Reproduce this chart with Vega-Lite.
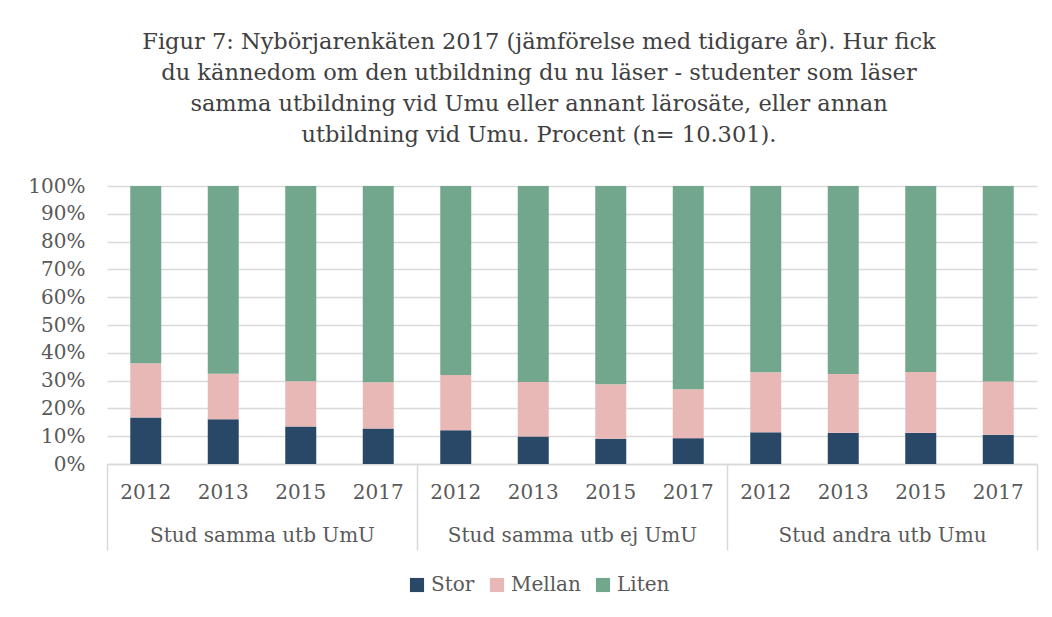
{
  "$schema": "https://vega.github.io/schema/vega-lite/v6.json",
  "autosize": "none",
  "width": 930,
  "height": 278,
  "padding": {"left": 107, "top": 186, "right": 15, "bottom": 153},
  "background": "white",
  "config": {
    "font": "DejaVu Serif",
    "view": {"stroke": null},
    "axisY": {
      "labelOverlap": false,
      "labelFont": "DejaVu Serif",
      "labelFontSize": 20,
      "labelColor": "#595959",
      "labelPadding": 22,
      "domain": false,
      "ticks": false,
      "grid": true,
      "gridColor": "#d9d9d9",
      "gridWidth": 1.5
    }
  },
  "title": {
    "text": [
      "Figur 7: Nybörjarenkäten 2017 (jämförelse med tidigare år). Hur fick",
      "du kännedom om den utbildning du nu läser - studenter som läser",
      "samma utbildning vid Umu eller annant lärosäte, eller annan",
      "utbildning vid Umu. Procent (n= 10.301)."
    ],
    "font": "DejaVu Serif",
    "fontSize": 22.5,
    "fontWeight": "normal",
    "color": "#404040",
    "lineHeight": 31,
    "anchor": "middle",
    "dx": -33,
    "offset": 30
  },
  "data": {
    "values": [
      {"group": "Stud samma utb UmU", "year": "2012", "size": "Stor", "value": 16.7},
      {"group": "Stud samma utb UmU", "year": "2012", "size": "Mellan", "value": 19.5},
      {"group": "Stud samma utb UmU", "year": "2012", "size": "Liten", "value": 63.8},
      {"group": "Stud samma utb UmU", "year": "2013", "size": "Stor", "value": 16.1},
      {"group": "Stud samma utb UmU", "year": "2013", "size": "Mellan", "value": 16.4},
      {"group": "Stud samma utb UmU", "year": "2013", "size": "Liten", "value": 67.5},
      {"group": "Stud samma utb UmU", "year": "2015", "size": "Stor", "value": 13.5},
      {"group": "Stud samma utb UmU", "year": "2015", "size": "Mellan", "value": 16.3},
      {"group": "Stud samma utb UmU", "year": "2015", "size": "Liten", "value": 70.2},
      {"group": "Stud samma utb UmU", "year": "2017", "size": "Stor", "value": 12.8},
      {"group": "Stud samma utb UmU", "year": "2017", "size": "Mellan", "value": 16.6},
      {"group": "Stud samma utb UmU", "year": "2017", "size": "Liten", "value": 70.6},
      {"group": "Stud samma utb ej UmU", "year": "2012", "size": "Stor", "value": 12.1},
      {"group": "Stud samma utb ej UmU", "year": "2012", "size": "Mellan", "value": 19.9},
      {"group": "Stud samma utb ej UmU", "year": "2012", "size": "Liten", "value": 68.0},
      {"group": "Stud samma utb ej UmU", "year": "2013", "size": "Stor", "value": 9.9},
      {"group": "Stud samma utb ej UmU", "year": "2013", "size": "Mellan", "value": 19.6},
      {"group": "Stud samma utb ej UmU", "year": "2013", "size": "Liten", "value": 70.5},
      {"group": "Stud samma utb ej UmU", "year": "2015", "size": "Stor", "value": 9.1},
      {"group": "Stud samma utb ej UmU", "year": "2015", "size": "Mellan", "value": 19.6},
      {"group": "Stud samma utb ej UmU", "year": "2015", "size": "Liten", "value": 71.3},
      {"group": "Stud samma utb ej UmU", "year": "2017", "size": "Stor", "value": 9.3},
      {"group": "Stud samma utb ej UmU", "year": "2017", "size": "Mellan", "value": 17.6},
      {"group": "Stud samma utb ej UmU", "year": "2017", "size": "Liten", "value": 73.1},
      {"group": "Stud andra utb Umu", "year": "2012", "size": "Stor", "value": 11.4},
      {"group": "Stud andra utb Umu", "year": "2012", "size": "Mellan", "value": 21.6},
      {"group": "Stud andra utb Umu", "year": "2012", "size": "Liten", "value": 67.0},
      {"group": "Stud andra utb Umu", "year": "2013", "size": "Stor", "value": 11.2},
      {"group": "Stud andra utb Umu", "year": "2013", "size": "Mellan", "value": 21.2},
      {"group": "Stud andra utb Umu", "year": "2013", "size": "Liten", "value": 67.6},
      {"group": "Stud andra utb Umu", "year": "2015", "size": "Stor", "value": 11.2},
      {"group": "Stud andra utb Umu", "year": "2015", "size": "Mellan", "value": 21.9},
      {"group": "Stud andra utb Umu", "year": "2015", "size": "Liten", "value": 66.9},
      {"group": "Stud andra utb Umu", "year": "2017", "size": "Stor", "value": 10.5},
      {"group": "Stud andra utb Umu", "year": "2017", "size": "Mellan", "value": 19.2},
      {"group": "Stud andra utb Umu", "year": "2017", "size": "Liten", "value": 70.3}
    ]
  },
  "encoding": {
    "x": {
      "field": "group",
      "type": "nominal",
      "sort": ["Stud samma utb UmU", "Stud samma utb ej UmU", "Stud andra utb Umu"],
      "scale": {"paddingInner": 0, "paddingOuter": 0},
      "axis": {
        "title": null,
        "labelAngle": 0,
        "labelFont": "DejaVu Serif",
        "labelFontSize": 20,
        "labelLimit": 0,
        "labelColor": "#595959",
        "labelPadding": -25,
        "labelBaseline": "top",
        "domain": true,
        "domainColor": "#d9d9d9",
        "domainWidth": 1.5,
        "ticks": true,
        "tickBand": "extent",
        "tickSize": 86,
        "tickColor": "#d9d9d9",
        "tickWidth": 1.5,
        "grid": false
      }
    },
    "xOffset": {
      "field": "year",
      "type": "nominal",
      "sort": ["2012", "2013", "2015", "2017"],
      "scale": {"paddingInner": 0.6, "paddingOuter": 0.3}
    }
  },
  "layer": [
    {
      "mark": {"type": "bar"},
      "encoding": {
        "y": {
          "field": "value",
          "type": "quantitative",
          "stack": "normalize",
          "scale": {"domain": [0, 1]},
          "axis": {
            "title": null,
            "format": ".0%",
            "values": [0, 0.1, 0.2, 0.3, 0.4, 0.5, 0.6, 0.7, 0.8, 0.9, 1],
            "tickCount": 11,
            "labelOverlap": false
          }
        },
        "color": {
          "field": "size",
          "type": "nominal",
          "sort": ["Stor", "Mellan", "Liten"],
          "scale": {
            "domain": ["Stor", "Mellan", "Liten"],
            "range": ["#294868", "#e8b8b6", "#72a78d"]
          },
          "legend": {
            "title": null,
            "orient": "none",
            "direction": "horizontal",
            "legendX": 300,
            "legendY": 389,
            "symbolType": "square",
            "symbolSize": 200,
            "symbolStrokeWidth": 0,
            "labelFont": "DejaVu Serif",
            "labelFontSize": 20,
            "labelColor": "#595959",
            "columnPadding": 12
          }
        }
      }
    },
    {
      "transform": [{"filter": "datum.size === 'Stor'"}],
      "mark": {
        "type": "text",
        "font": "DejaVu Serif",
        "fontSize": 20,
        "color": "#595959",
        "baseline": "middle",
        "dy": 29
      },
      "encoding": {
        "y": {
          "datum": 0,
          "type": "quantitative",
          "axis": {
            "title": null,
            "format": ".0%",
            "values": [0, 0.1, 0.2, 0.3, 0.4, 0.5, 0.6, 0.7, 0.8, 0.9, 1],
            "tickCount": 11,
            "labelOverlap": false
          }
        },
        "text": {"field": "year"}
      }
    }
  ]
}
